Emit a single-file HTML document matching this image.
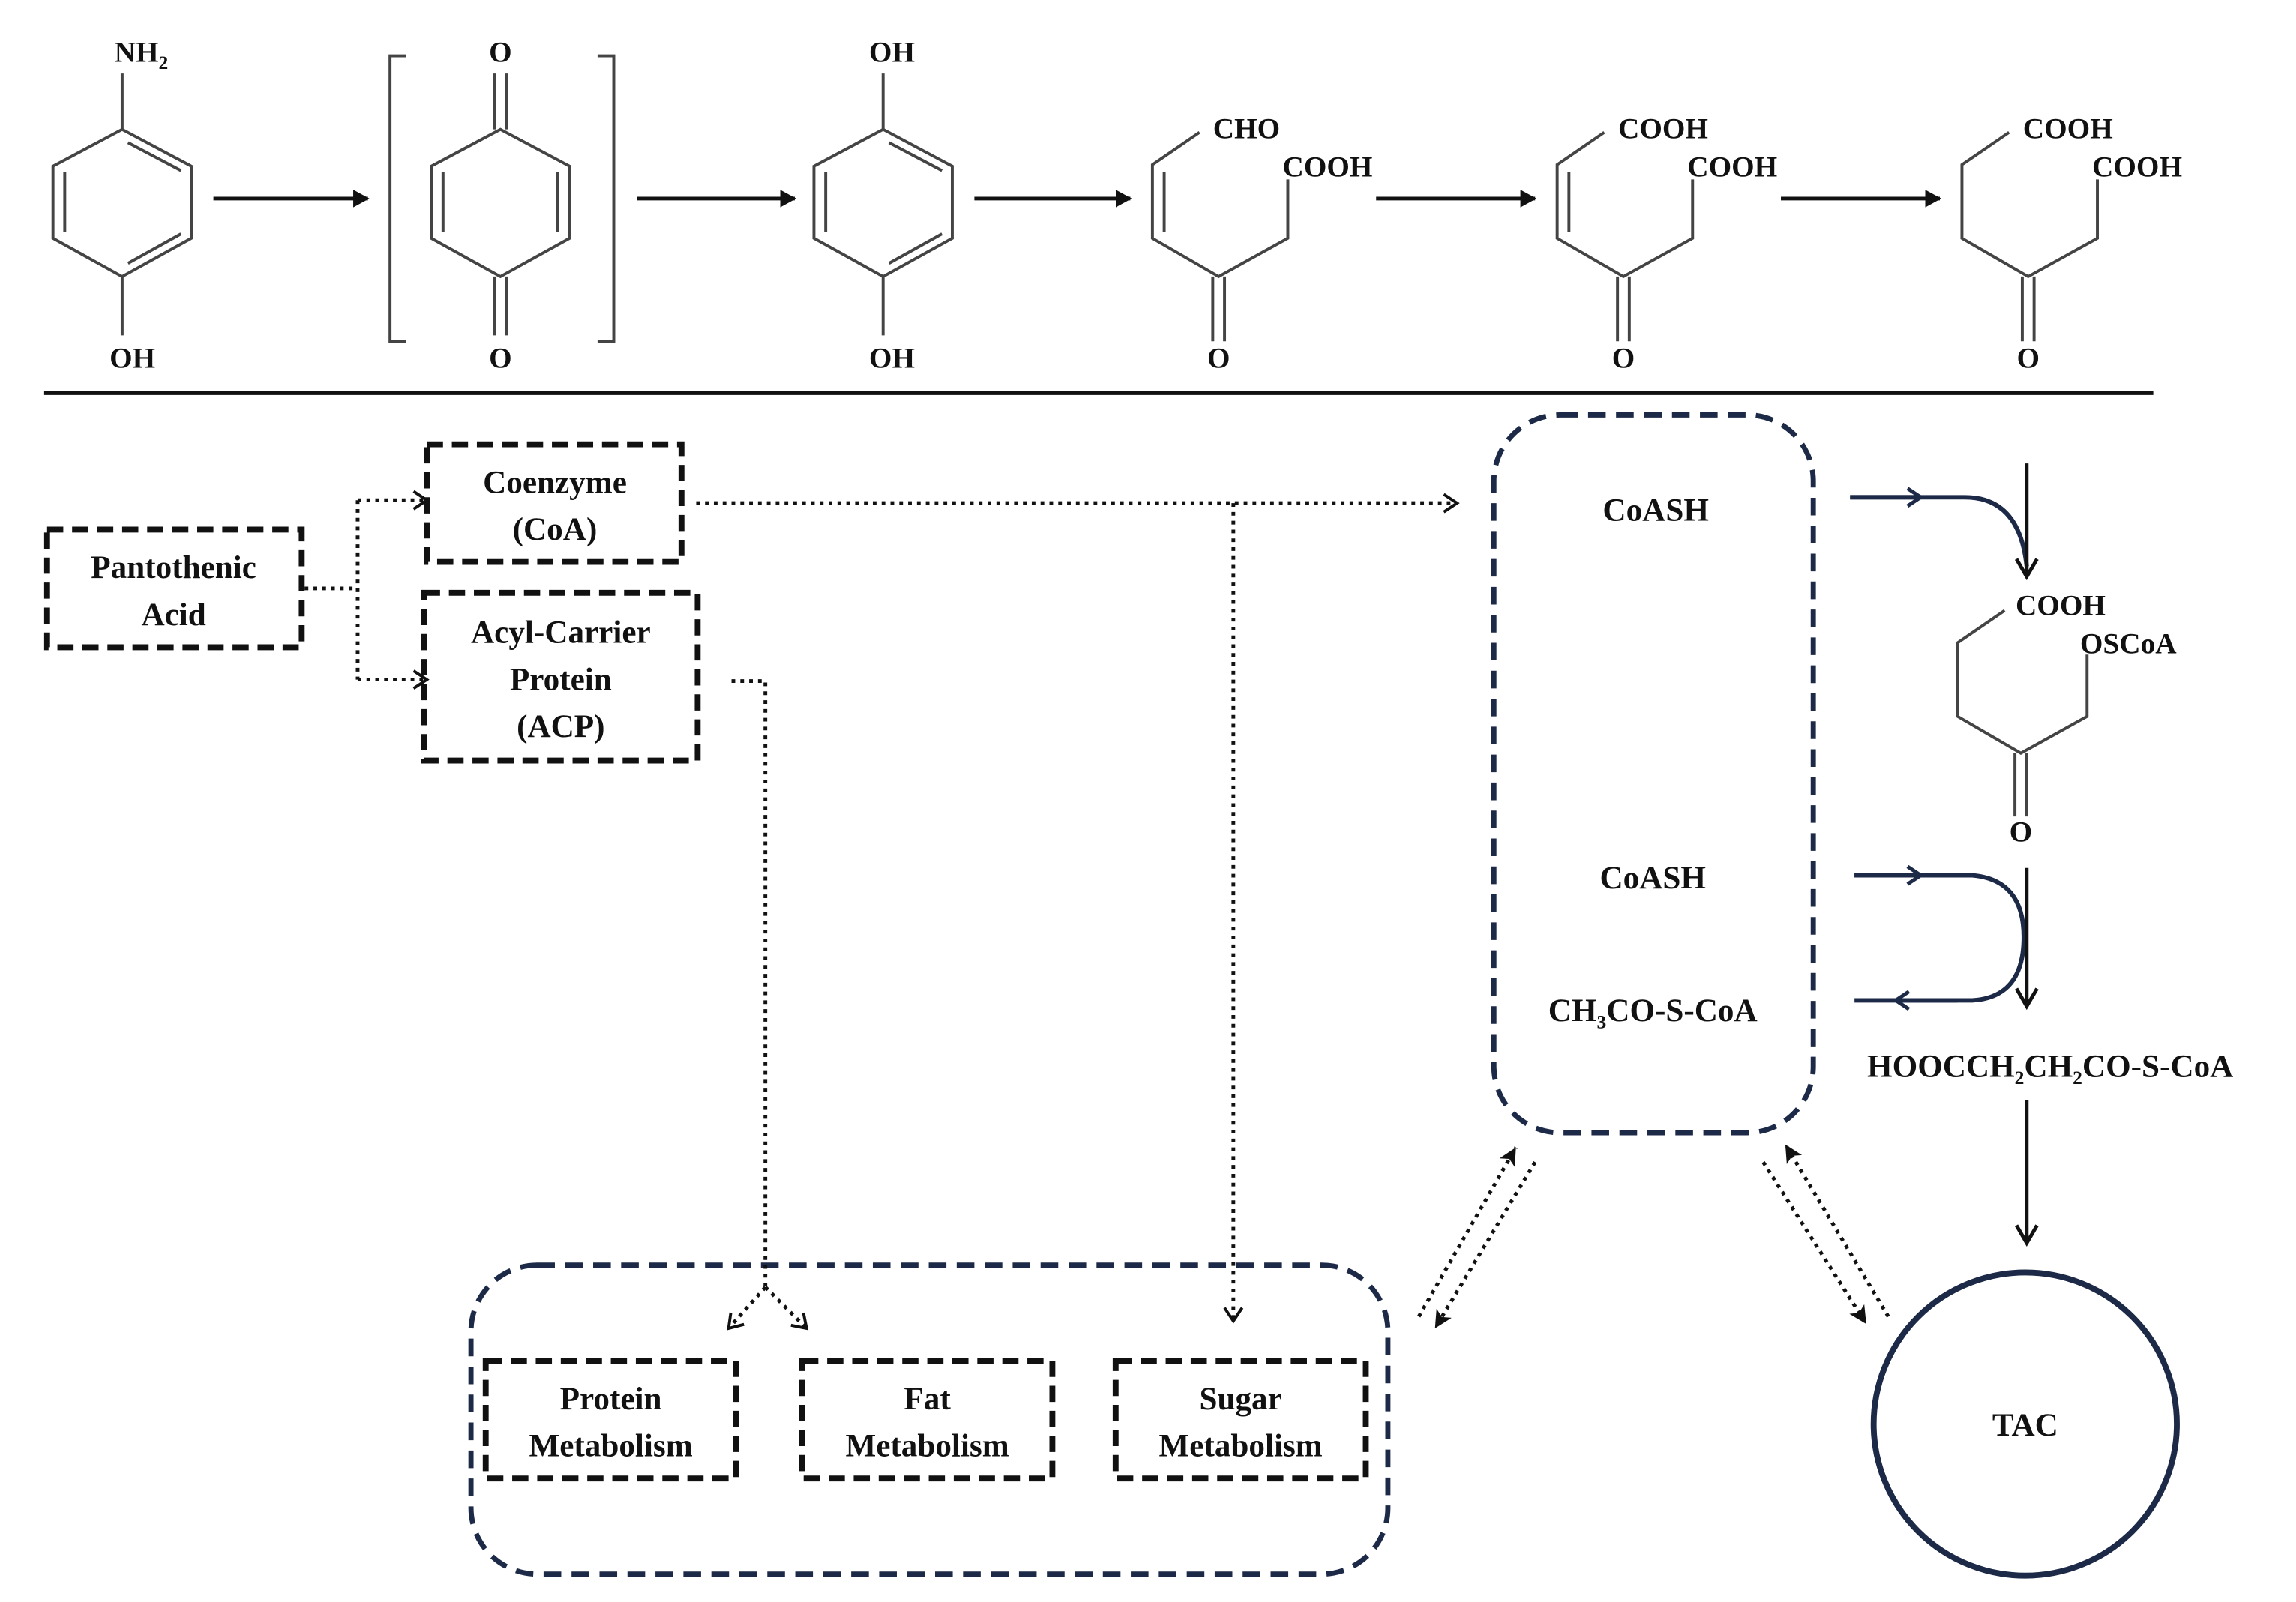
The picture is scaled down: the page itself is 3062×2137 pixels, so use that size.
<!DOCTYPE html>
<html><head><meta charset="utf-8"><style>
html,body{margin:0;padding:0;background:#fff;}
svg{display:block;}
text{font-family:"Liberation Serif",serif;font-weight:bold;fill:#111;}
</style></head><body>
<svg width="3062" height="2137" viewBox="0 0 1560 1089" preserveAspectRatio="none" xmlns="http://www.w3.org/2000/svg">
<defs>
<marker id="ah" markerWidth="12" markerHeight="12" refX="10" refY="6" orient="auto" markerUnits="userSpaceOnUse"><path d="M0,0 L11,6 L0,12 Z" fill="#111"/></marker>
<marker id="av" markerWidth="18" markerHeight="18" refX="15" refY="9" orient="auto" markerUnits="userSpaceOnUse"><path d="M3,2 L15,9 L3,16" fill="none" stroke="#111" stroke-width="2.5"/></marker>
<marker id="ao" markerWidth="14" markerHeight="14" refX="11" refY="7" orient="auto" markerUnits="userSpaceOnUse"><path d="M2,1 L11,7 L2,13" fill="none" stroke="#111" stroke-width="2"/></marker>
<marker id="aon" markerWidth="14" markerHeight="14" refX="11" refY="7" orient="auto" markerUnits="userSpaceOnUse"><path d="M2,1 L11,7 L2,13" fill="none" stroke="#1c2a48" stroke-width="2.5"/></marker>
<marker id="af" markerWidth="14" markerHeight="14" refX="12" refY="7" orient="auto" markerUnits="userSpaceOnUse"><path d="M0,1 L12,7 L0,13 L3,7 Z" fill="#111"/></marker>
</defs>

<g stroke="#444" stroke-width="2" fill="none">
<path d="M83,88 L130,113 L130,162 L83,188 L36,162 L36,113 Z"/>
<path d="M87,97 L123,116 M123,159 L87,179 M44,117 L44,158"/>
<path d="M83,50 L83,88 M83,188 L83,228"/>
<path d="M340,88 L387,113 L387,162 L340,188 L293,162 L293,113 Z"/>
<path d="M301,117 L301,158 M379,117 L379,158"/>
<path d="M336,50 L336,88 M344,50 L344,88 M336,188 L336,228 M344,188 L344,228"/>
<path d="M276,38 L265,38 L265,232 L276,232 M406,38 L417,38 L417,232 L406,232"/>
<path d="M600,88 L647,113 L647,162 L600,188 L553,162 L553,113 Z"/>
<path d="M604,97 L640,116 M640,159 L604,179 M561,117 L561,158"/>
<path d="M600,50 L600,88 M600,188 L600,228"/>
<path d="M815,90 L783,112 L783,162 L828,188 L875,162 L875,122"/>
<path d="M791,117 L791,158"/>
<path d="M824,188 L824,232 M832,188 L832,232"/>
<path d="M1090,90 L1058,112 L1058,162 L1103,188 L1150,162 L1150,122"/>
<path d="M1066,117 L1066,158"/>
<path d="M1099,188 L1099,232 M1107,188 L1107,232"/>
<path d="M1365,90 L1333,112 L1333,162 L1378,188 L1425,162 L1425,122"/>
<path d="M1374,188 L1374,232 M1382,188 L1382,232"/>
<path d="M1362,415 L1330,437 L1330,487 L1373,512 L1418,487 L1418,445"/>
<path d="M1369,512 L1369,555 M1377,512 L1377,555"/>
</g>
<g font-size="20" text-anchor="middle">
<text x="96" y="42">NH<tspan font-size="13" dy="5">2</tspan></text>
<text x="90" y="250">OH</text>
<text x="340" y="42">O</text>
<text x="340" y="250">O</text>
<text x="606" y="42">OH</text>
<text x="606" y="250">OH</text>
<text x="847" y="94">CHO</text>
<text x="902" y="120">COOH</text>
<text x="828" y="250">O</text>
<text x="1130" y="94">COOH</text>
<text x="1177" y="120">COOH</text>
<text x="1103" y="250">O</text>
<text x="1405" y="94">COOH</text>
<text x="1452" y="120">COOH</text>
<text x="1378" y="250">O</text>
<text x="1400" y="418">COOH</text>
<text x="1446" y="444">OSCoA</text>
<text x="1373" y="572">O</text>
</g>
<g stroke="#111" stroke-width="2.5" fill="none">
<line x1="145" y1="135" x2="250" y2="135" marker-end="url(#ah)"/>
<line x1="433" y1="135" x2="540" y2="135" marker-end="url(#ah)"/>
<line x1="662" y1="135" x2="768" y2="135" marker-end="url(#ah)"/>
<line x1="935" y1="135" x2="1043" y2="135" marker-end="url(#ah)"/>
<line x1="1210" y1="135" x2="1318" y2="135" marker-end="url(#ah)"/>
</g>
<line x1="30" y1="267" x2="1463" y2="267" stroke="#111" stroke-width="3"/>

<g stroke="#111" stroke-width="4" fill="none" stroke-dasharray="11,6">
<rect x="32" y="360" width="173" height="80"/>
<rect x="290" y="302" width="173" height="80"/>
<rect x="288" y="403" width="186" height="114"/>
<rect x="330" y="925" width="170" height="80"/>
<rect x="545" y="925" width="170" height="80"/>
<rect x="758" y="925" width="170" height="80"/>
</g>
<g stroke="#1c2a48" stroke-width="3.5" fill="none" stroke-dasharray="12,7">
<rect x="1015" y="282" width="217" height="488" rx="45"/>
<rect x="320" y="860" width="623" height="210" rx="45"/>
</g>
<circle cx="1376" cy="968" r="103" stroke="#1c2a48" stroke-width="4" fill="none"/>

<g font-size="22" text-anchor="middle">
<text x="118" y="393">Pantothenic</text><text x="118" y="425">Acid</text>
<text x="377" y="335">Coenzyme</text><text x="377" y="367">(CoA)</text>
<text x="381" y="437">Acyl-Carrier</text><text x="381" y="469">Protein</text><text x="381" y="501">(ACP)</text>
<text x="415" y="958">Protein</text><text x="415" y="990">Metabolism</text>
<text x="630" y="958">Fat</text><text x="630" y="990">Metabolism</text>
<text x="843" y="958">Sugar</text><text x="843" y="990">Metabolism</text>
<text x="1125" y="354">CoASH</text>
<text x="1123" y="604">CoASH</text>
<text x="1123" y="694">CH<tspan font-size="13" dy="5">3</tspan><tspan dy="-5">CO-S-CoA</tspan></text>
<text x="1393" y="732">HOOCCH<tspan font-size="13" dy="5">2</tspan><tspan dy="-5">CH</tspan><tspan font-size="13" dy="5">2</tspan><tspan dy="-5">CO-S-CoA</tspan></text>
<text x="1376" y="976">TAC</text>
</g>

<g stroke="#111" stroke-width="2.5" fill="none" stroke-dasharray="2.5,3.5">
<path d="M207,400 L243,400"/>
<path d="M243,340 L243,462"/>
<path d="M243,340 L290,340" marker-end="url(#ao)"/>
<path d="M243,462 L290,462" marker-end="url(#ao)"/>
<path d="M473,342 L990,342" marker-end="url(#ao)"/>
<path d="M838,342 L838,898" marker-end="url(#ao)"/>
<path d="M497,463 L520,463 L520,875"/>
<path d="M520,875 L495,903" marker-end="url(#ao)"/>
<path d="M520,875 L548,903" marker-end="url(#ao)"/>
<path d="M964,895 L1030,780" marker-end="url(#af)"/>
<path d="M1043,790 L975,903" marker-end="url(#af)"/>
<path d="M1198,790 L1268,900" marker-end="url(#af)"/>
<path d="M1283,895 L1213,778" marker-end="url(#af)"/>
</g>

<g fill="none">
<path d="M1257,338 L1335,338 Q1372,338 1377,385" stroke="#1c2a48" stroke-width="3"/>
<path d="M1257,338 L1305,338" stroke="#1c2a48" stroke-width="3" marker-end="url(#aon)"/>
<line x1="1377" y1="315" x2="1377" y2="392" stroke="#111" stroke-width="2.5" marker-end="url(#av)"/>
<path d="M1260,595 L1340,595 Q1375,598 1375,637 Q1375,678 1340,680 L1260,680" stroke="#1c2a48" stroke-width="3"/>
<path d="M1260,595 L1305,595" stroke="#1c2a48" stroke-width="3" marker-end="url(#aon)"/>
<path d="M1330,680 L1288,680" stroke="#1c2a48" stroke-width="3" marker-end="url(#aon)"/>
<line x1="1377" y1="590" x2="1377" y2="684" stroke="#111" stroke-width="2.5" marker-end="url(#av)"/>
<line x1="1377" y1="748" x2="1377" y2="845" stroke="#111" stroke-width="2.5" marker-end="url(#av)"/>
</g>
</svg>
</body></html>
